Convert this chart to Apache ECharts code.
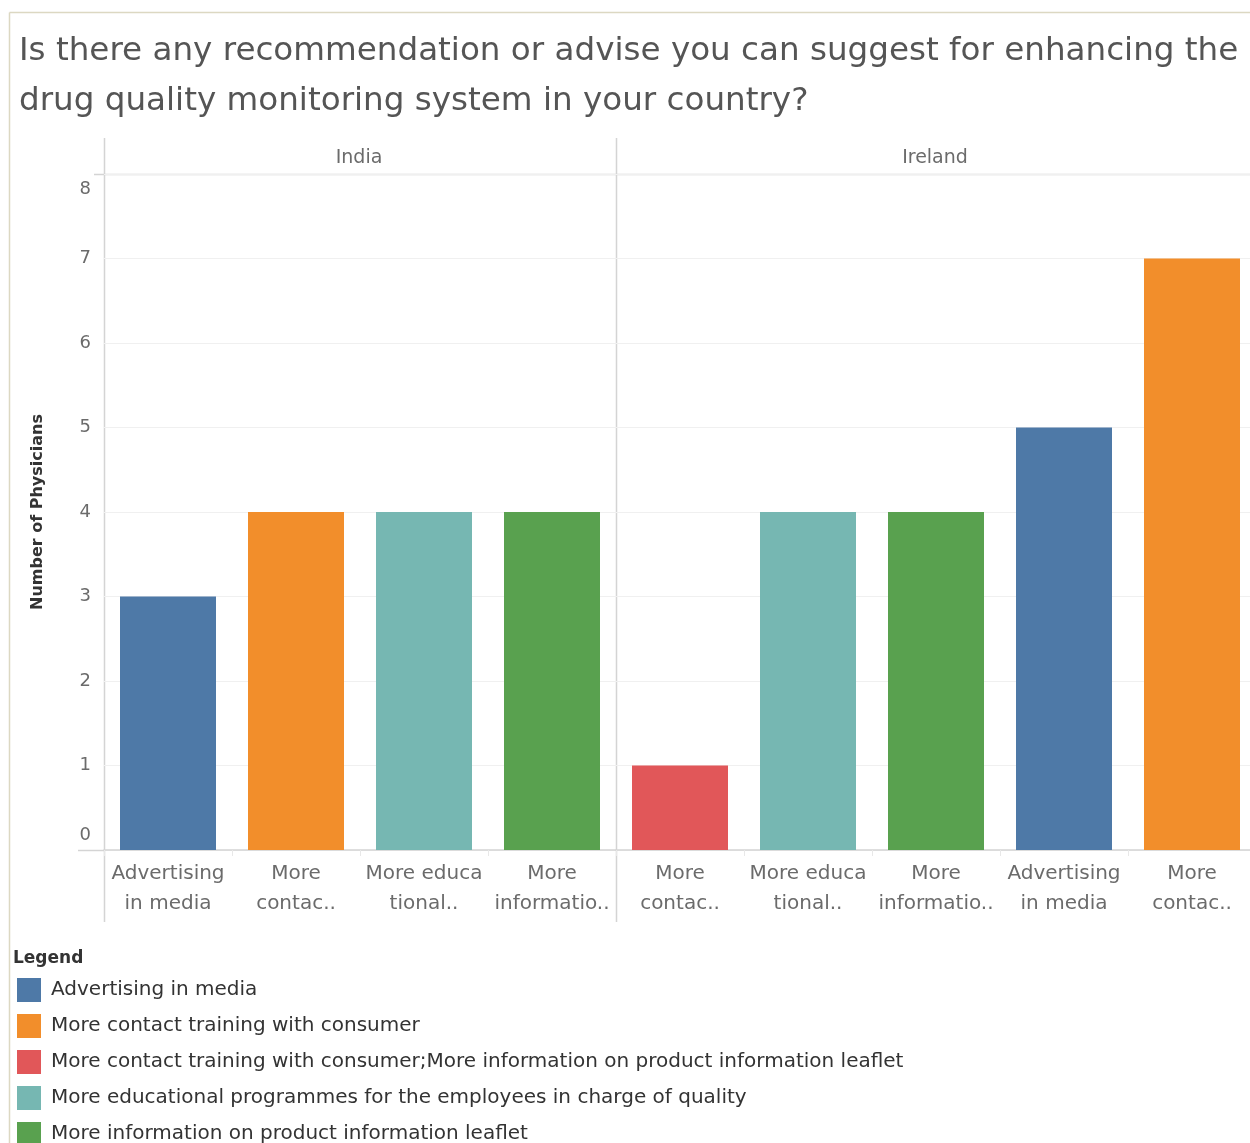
<!DOCTYPE html>
<html>
<head>
<meta charset="utf-8">
<script src="https://cdn.jsdelivr.net/npm/echarts@6/dist/echarts.min.js"></script>
<style>
  html, body { margin: 0; padding: 0; background: #fff; overflow: hidden; }
  #chart { width: 1260px; height: 1180px; }
</style>
</head>
<body>
<div id="chart"></div>
<script>
// Response types (also the legend entries) and their colours
const responseTypes = [
  'Advertising in media',
  'More contact training with consumer',
  'More contact training with consumer;More information on product information leaflet',
  'More educational programmes for the employees in charge of quality',
  'More information on product information leaflet'
];
const responseColors = ['#4E79A7', '#F28E2B', '#E15759', '#76B7B2', '#59A14F'];

// Shortened tick labels shown under each bar
const shortLabels = {
  'Advertising in media': 'Advertising\nin media',
  'More contact training with consumer': 'More\ncontac..',
  'More contact training with consumer;More information on product information leaflet': 'More\ncontac..',
  'More educational programmes for the employees in charge of quality': 'More educa\ntional..',
  'More information on product information leaflet': 'More\ninformatio..'
};

// India panel
const indiaCategories = [
  'Advertising in media',
  'More contact training with consumer',
  'More educational programmes for the employees in charge of quality',
  'More information on product information leaflet'
];
const indiaValues = [3, 4, 4, 4];

// Ireland panel
const irelandCategories = [
  'More contact training with consumer;More information on product information leaflet',
  'More educational programmes for the employees in charge of quality',
  'More information on product information leaflet',
  'Advertising in media',
  'More contact training with consumer'
];
const irelandValues = [1, 4, 4, 5, 7];

const yTicks = [0, 1, 2, 3, 4, 5, 6, 7, 8];

const FONT = '"DejaVu Sans", "Noto Sans", sans-serif';

const chart = echarts.init(document.getElementById('chart'), null, { renderer: 'canvas' });

const plotTop = 174, plotHeight = 676;
const grids = [
  { left: 104, top: plotTop, width: 512, height: plotHeight },
  { left: 616, top: plotTop, width: 640, height: plotHeight }
];

function xAxisFor(cats, gridIndex) {
  return {
    type: 'category',
    gridIndex: gridIndex,
    data: cats,
    axisLine: { show: true, lineStyle: { color: '#d4d4d4', width: 1.5 } },
    axisTick: { show: true, length: 6, lineStyle: { color: '#e8e8e8' } },
    axisLabel: {
      formatter: v => shortLabels[v],
      color: '#6b6b6b',
      fontFamily: FONT,
      fontSize: 20,
      lineHeight: 30,
      margin: 9,
      interval: 0
    }
  };
}

function yAxisFor(gridIndex, showLabels) {
  return {
    type: 'value',
    gridIndex: gridIndex,
    min: 0,
    max: yTicks[yTicks.length - 1],
    interval: 1,
    name: showLabels ? 'Number of Physicians' : '',
    nameLocation: 'middle',
    nameRotate: 90,
    nameGap: 58,
    nameTextStyle: { color: '#333', fontFamily: FONT, fontSize: 16, fontWeight: 'bold' },
    axisLine: { show: false },
    axisTick: { show: false },
    axisLabel: {
      show: showLabels,
      color: '#6b6b6b',
      fontFamily: FONT,
      fontSize: 18,
      lineHeight: 30,
      margin: 13,
      verticalAlignMaxLabel: 'top',
      verticalAlignMinLabel: 'bottom'
    },
    splitLine: { show: true, lineStyle: { color: '#f0f0f0', width: 1 } }
  };
}

// One stacked series per response type per panel, so colours follow the legend
function panelSeries(cats, vals, gridIndex, stackName) {
  return responseTypes
    .map((type, ti) => ({ type, ti }))
    .filter(o => cats.includes(o.type))
    .map(o => ({
      type: 'bar',
      name: o.type,
      xAxisIndex: gridIndex,
      yAxisIndex: gridIndex,
      stack: stackName,
      barWidth: '75%',
      itemStyle: { color: responseColors[o.ti] },
      emphasis: { disabled: true },
      data: cats.map((c, i) => (c === o.type ? vals[i] : '-'))
    }));
}

const lineColor = '#d4d4d4';
const graphics = [
  // outer frame
  { type: 'line', shape: { x1: 9.5, y1: 12.5, x2: 1260, y2: 12.5 }, style: { stroke: '#dcd8c2', lineWidth: 1.5 } },
  { type: 'line', shape: { x1: 9.5, y1: 12.5, x2: 9.5, y2: 1180 }, style: { stroke: '#dcd8c2', lineWidth: 1.5 } },
  // pane header rule and dividers
  { type: 'line', shape: { x1: 94, y1: 174.5, x2: 1260, y2: 174.5 }, style: { stroke: lineColor, lineWidth: 1.5 } },
  { type: 'line', shape: { x1: 104.5, y1: 138, x2: 104.5, y2: 922 }, style: { stroke: lineColor, lineWidth: 1.5 } },
  { type: 'line', shape: { x1: 616.5, y1: 138, x2: 616.5, y2: 922 }, style: { stroke: lineColor, lineWidth: 1.5 } },
  { type: 'line', shape: { x1: 78, y1: 850.5, x2: 104, y2: 850.5 }, style: { stroke: lineColor, lineWidth: 1.5 } },
  // pane headers
  { type: 'text', x: 359, y: 158, style: { text: 'India', fill: '#6b6b6b', font: '19px ' + FONT, textAlign: 'center', textVerticalAlign: 'middle' } },
  { type: 'text', x: 935, y: 158, style: { text: 'Ireland', fill: '#6b6b6b', font: '19px ' + FONT, textAlign: 'center', textVerticalAlign: 'middle' } },
  // legend heading
  { type: 'text', x: 13, y: 959, style: { text: 'Legend', fill: '#333', font: 'bold 17px ' + FONT, textVerticalAlign: 'middle' } }
];

chart.setOption({
  animation: false,
  backgroundColor: '#fff',
  title: {
    text: 'Is there any recommendation or advise you can suggest for enhancing the\ndrug quality monitoring system in your country?',
    left: 14,
    top: 22,
    padding: 5,
    textStyle: { color: '#555', fontFamily: FONT, fontSize: 32.6, fontWeight: 'normal', lineHeight: 50 }
  },
  grid: grids,
  xAxis: [xAxisFor(indiaCategories, 0), xAxisFor(irelandCategories, 1)],
  yAxis: [yAxisFor(0, true), yAxisFor(1, false)],
  legend: {
    orient: 'vertical',
    left: 17,
    top: 978,
    padding: 0,
    data: responseTypes,
    icon: 'rect',
    itemWidth: 24,
    itemHeight: 24,
    itemGap: 12,
    selectedMode: false,
    textStyle: { color: '#333', fontFamily: FONT, fontSize: 20, lineHeight: 24, padding: [0, 0, 0, 5] }
  },
  graphic: graphics,
  series: panelSeries(indiaCategories, indiaValues, 0, 'india')
    .concat(panelSeries(irelandCategories, irelandValues, 1, 'ireland'))
});
</script>
</body>
</html>
